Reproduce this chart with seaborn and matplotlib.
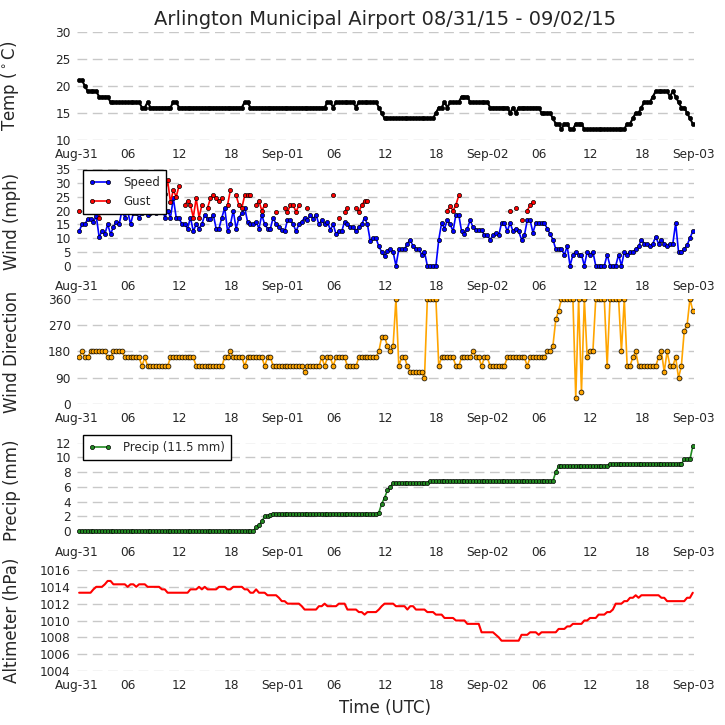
"""
plot.py
=======
Arlington Municipal Airport weather, 08/31/15 - 09/02/15

Five stacked panels (temperature, wind, wind direction, cumulative
precipitation, altimeter) from 20-minute station reports.

Output:
  - out.png
"""

import numpy as np
import pandas as pd
import matplotlib
matplotlib.use("Agg")
import matplotlib.pyplot as plt
import matplotlib.dates as mdates
from matplotlib.ticker import FuncFormatter
import seaborn as sns

N = np.nan

# ── Data (one report every 20 minutes, 216 reports) ───────────────────────────
START   = "2015-08-31 00:15"
PERIODS = 216

TEMP = [
    21, 21, 20, 19, 19, 19, 19, 18, 18, 18, 18, 17, 17, 17, 17, 17, 17, 17, 17, 17, 17, 17, 16, 16,
    17, 16, 16, 16, 16, 16, 16, 16, 16, 17, 17, 16, 16, 16, 16, 16, 16, 16, 16, 16, 16, 16, 16, 16,
    16, 16, 16, 16, 16, 16, 16, 16, 16, 16, 17, 17, 16, 16, 16, 16, 16, 16, 16, 16, 16, 16, 16, 16,
    16, 16, 16, 16, 16, 16, 16, 16, 16, 16, 16, 16, 16, 16, 16, 17, 17, 16, 17, 17, 17, 17, 17, 17,
    17, 16, 17, 17, 17, 17, 17, 17, 17, 16, 15, 14, 14, 14, 14, 14, 14, 14, 14, 14, 14, 14, 14, 14,
    14, 14, 14, 14, 14, 15, 16, 16, 17, 16, 17, 17, 17, 17, 18, 18, 18, 17, 17, 17, 17, 17, 17, 17,
    16, 16, 16, 16, 16, 16, 16, 15, 16, 15, 16, 16, 16, 16, 16, 16, 16, 16, 15, 15, 15, 15, 14, 13,
    13, 12, 13, 13, 12, 12, 13, 13, 13, 12, 12, 12, 12, 12, 12, 12, 12, 12, 12, 12, 12, 12, 12, 12,
    13, 13, 14, 15, 15, 16, 17, 17, 17, 18, 19, 19, 19, 19, 19, 18, 19, 18, 17, 16, 16, 15, 14, 13,
]

SPEED = [
    12.5, 15, 15, 17, 17, 16, 18, 10.5, 12.5, 11.5, 15, 11.5, 14, 16, 15, 20, 17.5, 20, 15, 19, 19, 17.5, 19, 20,
    18.5, 19, 20, 19, 20, 22, 17.5, 20, 17.5, 24.5, 17.5, 17.5, 15, 15, 13.5, 17.5, 12.5, 15, 13.5, 15, 18.5, 17, 17, 18.5,
    13.5, 13.5, 17.5, 21, 12.5, 15, 20, 13.5, 17.5, 19, 21, 16, 15, 15, 16, 13.5, 18.5, 15, 13.5, 13.5, 17.5, 15, 14, 13,
    12.5, 16.5, 16.5, 15, 12.5, 15, 16, 17.5, 16.5, 18.5, 17, 18.5, 15, 16.5, 15, 16, 13, 15, 11.5, 12.5, 12.5, 16, 15, 14,
    14, 12.5, 14, 15, 17.5, 15, 9, 10, 10, 7, 5, 3.5, 5.5, 6, 5, 0, 6, 6, 6, 8, 9.5, 7, 6, 6,
    4, 5, 0, 0, 0, 0, 9.5, 15.5, 13.5, 16.5, 15, 12.5, 18.5, 18.5, 12.5, 11.5, 13.5, 16.5, 14, 13, 13, 13, 11, 11,
    9.5, 11, 12, 11, 15.5, 15.5, 12.5, 15.5, 12.5, 13.5, 12.5, 9.5, 11, 16.5, 16.5, 12, 15.5, 15.5, 15.5, 15.5, 13.5, 11.5, 9.5, 6,
    6, 6, 4, 7, 0, 4, 5, 4, 4, 0, 5, 4, 5, 0, 0, 0, 0, 4, 0, 0, 0, 4, 0, 5,
    4, 5, 5, 6, 7, 9.5, 8, 8, 7, 8, 10.5, 8, 9.5, 8, 7, 8, 8, 15.5, 5, 5, 6, 7.5, 10, 12.5,
]

GUST = [
    20, N, N, N, N, N, N, 17.5, 22, 25, 27, 24, 26, 28, 25, 23, 26, 27, 24, 25, 26, 28, 25, 24,
    26, 27, 25, 28, 26, 27, 26, 31, 23, 27.5, 25, 29, N, 22, 23.5, 22, 17.5, 24.5, 17.5, 22, N, 21, 24.5, 25.5,
    24.5, 23.5, 24.5, N, 22, 27.5, N, 25.5, 22, 21, 25.5, 25.5, 25.5, N, 22, 23.5, 20, 22, N, N, N, 19.5, N, N,
    21, 19.5, 22, 22, 19.5, 22, N, N, 21, N, N, N, N, N, N, N, N, 25.5, N, 17.5, N, 19.5, 21, N,
    N, 21, 19.5, 22, 23.5, 23.5, N, N, N, N, N, N, N, N, N, N, N, N, N, N, N, N, N, N,
    N, N, N, N, N, N, N, N, N, 20, 21.5, 20, 22, 25.5, N, N, N, N, N, N, N, N, N, N,
    N, N, N, N, N, N, N, 20, N, 21, N, 16.5, N, 20, 22, 23, N, N, N, N, N, N, N, N,
    N, N, N, N, N, N, N, N, N, N, N, N, N, N, N, N, N, N, N, N, N, N, N, N,
    N, N, N, N, N, N, N, N, N, N, N, N, N, N, N, N, N, N, N, N, N, N, N, N,
]

DIRECTION = [
    160, 180, 160, 160, 180, 180, 180, 180, 180, 180, 160, 160, 180, 180, 180, 180, 160, 160, 160, 160, 160, 160, 130, 160,
    130, 130, 130, 130, 130, 130, 130, 130, 160, 160, 160, 160, 160, 160, 160, 160, 160, 130, 130, 130, 130, 130, 130, 130,
    130, 130, 130, 160, 160, 180, 160, 160, 160, 160, 130, 160, 160, 160, 160, 160, 160, 130, 160, 160, 130, 130, 130, 130,
    130, 130, 130, 130, 130, 130, 130, 110, 130, 130, 130, 130, 130, 160, 130, 160, 160, 130, 160, 160, 160, 160, 130, 130,
    130, 130, 160, 160, 160, 160, 160, 160, 160, 180, 230, 230, 200, 180, 200, 360, 130, 160, 160, 130, 110, 110, 110, 110,
    110, 90, 360, 360, 360, 360, 130, 160, 160, 160, 160, 160, 130, 130, 160, 160, 160, 160, 180, 160, 160, 130, 160, 160,
    130, 130, 130, 130, 130, 130, 160, 160, 160, 160, 160, 160, 160, 130, 160, 160, 160, 160, 160, 160, 180, 180, 200, 290,
    320, 360, 360, 360, 360, 360, 20, 360, 40, 360, 160, 180, 180, 360, 360, 360, 360, 130, 360, 360, 360, 360, 180, 360,
    130, 130, 160, 180, 130, 130, 130, 130, 130, 130, 130, 160, 180, 110, 180, 130, 130, 160, 90, 130, 250, 270, 360, 320,
]

PRECIP = [
    0, 0, 0, 0, 0, 0, 0, 0, 0, 0, 0, 0, 0, 0, 0, 0, 0, 0, 0, 0, 0, 0, 0, 0,
    0, 0, 0, 0, 0, 0, 0, 0, 0, 0, 0, 0, 0, 0, 0, 0, 0, 0, 0, 0, 0, 0, 0, 0,
    0, 0, 0, 0, 0, 0, 0, 0, 0, 0, 0, 0, 0, 0, 0.5, 0.8, 1.3, 2.0, 2.0, 2.2, 2.3, 2.3, 2.3, 2.3,
    2.3, 2.3, 2.3, 2.3, 2.3, 2.3, 2.3, 2.3, 2.3, 2.3, 2.3, 2.3, 2.3, 2.3, 2.3, 2.3, 2.3, 2.3, 2.3, 2.3, 2.3, 2.3, 2.3, 2.3,
    2.3, 2.3, 2.3, 2.3, 2.3, 2.3, 2.3, 2.3, 2.3, 2.5, 3.7, 4.5, 5.5, 6.0, 6.5, 6.5, 6.5, 6.5, 6.5, 6.5, 6.5, 6.5, 6.5, 6.5,
    6.5, 6.5, 6.5, 6.8, 6.8, 6.8, 6.8, 6.8, 6.8, 6.8, 6.8, 6.8, 6.8, 6.8, 6.8, 6.8, 6.8, 6.8, 6.8, 6.8, 6.8, 6.8, 6.8, 6.8,
    6.8, 6.8, 6.8, 6.8, 6.8, 6.8, 6.8, 6.8, 6.8, 6.8, 6.8, 6.8, 6.8, 6.8, 6.8, 6.8, 6.8, 6.8, 6.8, 6.8, 6.8, 6.8, 6.8, 8.0,
    8.8, 8.8, 8.8, 8.8, 8.8, 8.8, 8.8, 8.8, 8.8, 8.8, 8.8, 8.8, 8.8, 8.8, 8.8, 8.8, 8.8, 8.8, 9.1, 9.1, 9.1, 9.1, 9.1, 9.1,
    9.1, 9.1, 9.1, 9.1, 9.1, 9.1, 9.1, 9.1, 9.1, 9.1, 9.1, 9.1, 9.1, 9.1, 9.1, 9.1, 9.1, 9.1, 9.1, 9.1, 9.7, 9.7, 9.7, 11.5,
]

ALTIMETER = [
    1013.3, 1013.3, 1013.3, 1013.3, 1013.3, 1013.7, 1014.0, 1014.0, 1014.0, 1014.3, 1014.7, 1014.7,
    1014.3, 1014.3, 1014.3, 1014.3, 1014.3, 1014.0, 1014.3, 1014.3, 1014.0, 1014.3, 1014.3, 1014.3,
    1014.0, 1014.0, 1014.0, 1014.0, 1014.0, 1013.7, 1013.7, 1013.3, 1013.3, 1013.3, 1013.3, 1013.3,
    1013.3, 1013.3, 1013.3, 1013.7, 1013.7, 1013.7, 1014.0, 1013.7, 1014.0, 1013.7, 1013.7, 1013.7,
    1013.7, 1014.0, 1014.0, 1014.0, 1013.7, 1013.7, 1014.0, 1014.0, 1014.0, 1014.0, 1013.7, 1013.7,
    1013.3, 1013.3, 1013.7, 1013.3, 1013.3, 1013.3, 1013.0, 1013.0, 1013.0, 1013.0, 1012.7, 1012.3,
    1012.3, 1012.0, 1012.0, 1012.0, 1012.0, 1012.0, 1011.7, 1011.3, 1011.3, 1011.3, 1011.3, 1011.3,
    1011.7, 1011.7, 1012.0, 1011.7, 1011.7, 1011.7, 1011.7, 1012.0, 1012.0, 1012.0, 1011.3, 1011.3,
    1011.3, 1011.3, 1011.0, 1011.0, 1010.7, 1011.0, 1011.0, 1011.0, 1011.0, 1011.3, 1011.7, 1012.0,
    1012.0, 1012.0, 1012.0, 1011.7, 1011.7, 1011.7, 1011.7, 1011.3, 1011.7, 1011.7, 1011.3, 1011.3,
    1011.3, 1011.3, 1011.0, 1011.0, 1011.0, 1010.7, 1010.7, 1010.7, 1010.3, 1010.3, 1010.3, 1010.3,
    1010.0, 1010.0, 1010.0, 1010.0, 1009.6, 1009.6, 1009.6, 1009.6, 1009.6, 1008.6, 1008.6, 1008.6,
    1008.6, 1008.6, 1008.3, 1008.0, 1007.6, 1007.6, 1007.6, 1007.6, 1007.6, 1007.6, 1007.6, 1008.3,
    1008.3, 1008.3, 1008.6, 1008.6, 1008.6, 1008.3, 1008.6, 1008.6, 1008.6, 1008.6, 1008.6, 1008.6,
    1009.0, 1009.0, 1009.0, 1009.3, 1009.3, 1009.6, 1009.6, 1009.6, 1009.6, 1010.0, 1010.0, 1010.3,
    1010.3, 1010.3, 1010.7, 1010.7, 1010.7, 1011.0, 1011.0, 1011.3, 1012.0, 1012.0, 1012.0, 1012.3,
    1012.3, 1012.7, 1012.7, 1013.0, 1012.7, 1013.0, 1013.0, 1013.0, 1013.0, 1013.0, 1013.0, 1013.0,
    1012.7, 1012.7, 1012.3, 1012.3, 1012.3, 1012.3, 1012.3, 1012.3, 1012.3, 1012.7, 1012.7, 1013.3,
]

TEMP_TICKS  = [10, 15, 20, 25, 30]
WIND_TICKS  = [0, 5, 10, 15, 20, 25, 30, 35]
DIR_TICKS   = [0, 90, 180, 270, 360]
PRECIP_TICKS = [0, 2, 4, 6, 8, 10, 12]
ALT_TICKS   = [1004, 1006, 1008, 1010, 1012, 1014, 1016]

df = pd.DataFrame({
    "time":   pd.date_range(START, periods=PERIODS, freq="20min"),
    "temp":   TEMP,
    "speed":  SPEED,
    "gust":   GUST,
    "dir":    DIRECTION,
    "precip": PRECIP,
    "alt":    ALTIMETER,
})

# ── Figure layout ──────────────────────────────────────────────────────────────
sns.set_style("white")
plt.rcParams["font.family"] = ["DejaVu Sans"]

fig = plt.figure(figsize=(7.25, 7.25), dpi=100)
W, H = 725.0, 725.0
LEFT, RIGHT = 77.0, 693.5

def panel(top, bottom):
    return fig.add_axes([LEFT / W, 1 - bottom / H, (RIGHT - LEFT) / W, (bottom - top) / H])

ax_t = panel(31.7, 140.0)
ax_w = panel(169.3, 272.6)
ax_d = panel(299.0, 404.0)
ax_p = panel(442.5, 538.4)
ax_a = panel(570.0, 671.0)

mk = dict(marker="o", mec="k", mew=0.5)

# ── Series ─────────────────────────────────────────────────────────────────────
sns.lineplot(data=df, x="time", y="temp", ax=ax_t, color="k", lw=1.5, ms=3,
             estimator=None, sort=False, **mk)

sns.lineplot(data=df, x="time", y="speed", ax=ax_w, color="b", lw=1.2, ms=3,
             estimator=None, sort=False, label="Speed", **mk)
# gusts are only reported now and then; plain plot keeps the gaps
ax_w.plot(df["time"], df["gust"], color="r", lw=1.2, ms=3, label="Gust", **mk)

sns.lineplot(data=df, x="time", y="dir", ax=ax_d, color="orange", lw=1.2, ms=3.5,
             estimator=None, sort=False, **mk)

sns.lineplot(data=df, x="time", y="precip", ax=ax_p, color="forestgreen", lw=1.2, ms=3,
             estimator=None, sort=False, label=f"Precip ({PRECIP[-1]:.1f} mm)", **mk)

sns.lineplot(data=df, x="time", y="alt", ax=ax_a, color="r", lw=1.5,
             estimator=None, sort=False)

# ── Axes styling ───────────────────────────────────────────────────────────────
def date_label(x, pos):
    d = mdates.num2date(x)
    return d.strftime("%b-%d") if d.hour == 0 else d.strftime("%H")

xmin, xmax = pd.Timestamp("2015-08-31 00:00"), pd.Timestamp("2015-09-03 00:00")
settings = [
    (ax_t, r"Temp ($^\circ$C)", (10, 30), TEMP_TICKS),
    (ax_w, "Wind (mph)", (-2.5, 35), WIND_TICKS),
    (ax_d, "Wind Direction", (0, 360), DIR_TICKS),
    (ax_p, "Precip (mm)", (-1, 12), PRECIP_TICKS),
    (ax_a, "Altimeter (hPa)", (1004, 1016), ALT_TICKS),
]
for ax, ylab, ylim, yticks in settings:
    ax.set_xlim(xmin, xmax)
    ax.set_ylim(*ylim)
    ax.set_yticks(yticks)
    ax.xaxis.set_major_locator(mdates.HourLocator(byhour=[0, 6, 12, 18]))
    ax.xaxis.set_major_formatter(FuncFormatter(date_label))
    ax.set_xlabel("")
    ax.set_ylabel(ylab, fontsize=12)
    ax.yaxis.set_label_coords((21.5 - LEFT) / (RIGHT - LEFT), 0.5)
    ax.tick_params(axis="both", length=0, labelsize=8.7)
    ax.tick_params(axis="y", pad=4.5)
    ax.tick_params(axis="x", pad=5.5)
    ax.grid(axis="y", color="#c8c8c8", lw=1, linestyle=(0, (7, 4)))
    ax.grid(axis="x", visible=False)
    ax.set_axisbelow(True)
    for s in ax.spines.values():
        s.set_visible(False)

ax_t.set_title("Arlington Municipal Airport 08/31/15 - 09/02/15", fontsize=14, pad=5)
ax_a.set_xlabel("Time (UTC)", fontsize=12, labelpad=5)

leg_kw = dict(loc="upper left", borderaxespad=0, numpoints=2, fontsize=8.5,
              fancybox=False, framealpha=1, edgecolor="k", borderpad=0.5,
              labelspacing=0.5, handlelength=1.9, handletextpad=1.0,
              bbox_transform=fig.transFigure)
leg = ax_w.legend(bbox_to_anchor=(83 / W, 1 - 170 / H), **leg_kw)
leg.get_frame().set_linewidth(1)
leg = ax_p.legend(bbox_to_anchor=(83 / W, 1 - 435 / H), **leg_kw)
leg.get_frame().set_linewidth(1)

fig.savefig("out.png", dpi=100, facecolor="white")
plt.close()
